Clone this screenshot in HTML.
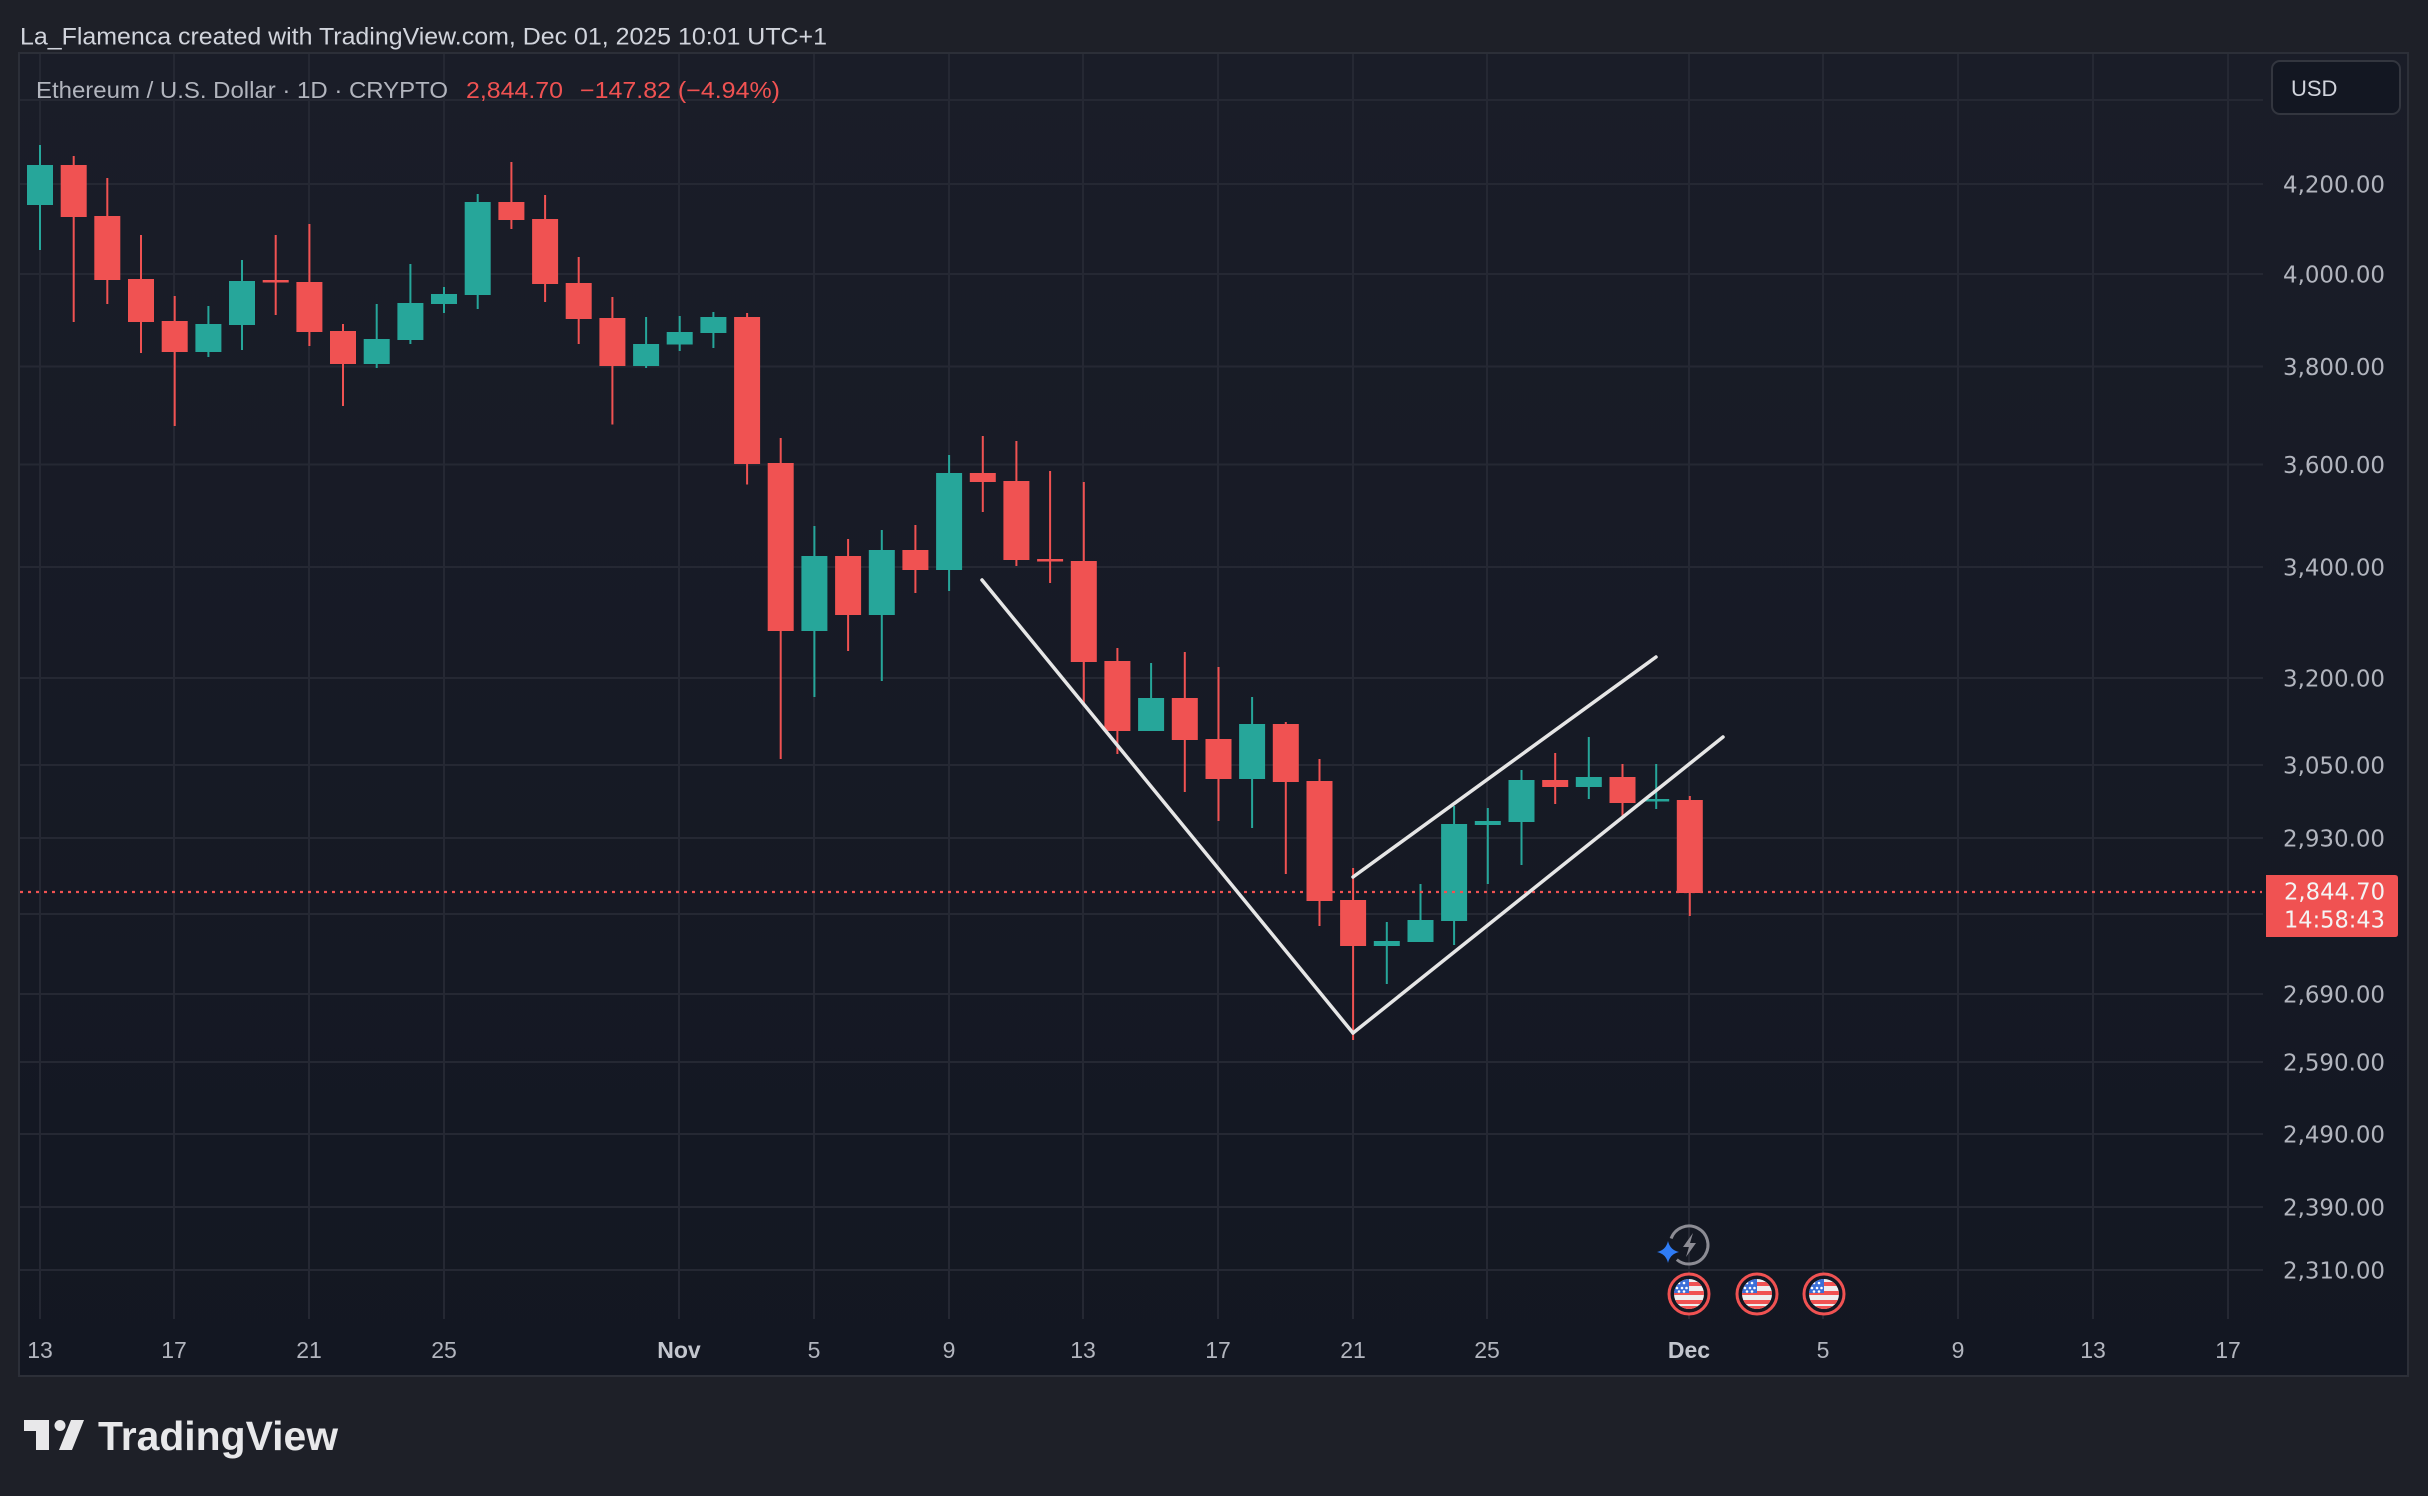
<!DOCTYPE html>
<html>
<head>
<meta charset="utf-8">
<style>
html,body{margin:0;padding:0;background:#1e2028;}
svg{display:block;}
</style>
</head>
<body>
<svg xmlns="http://www.w3.org/2000/svg" width="2428" height="1496" viewBox="0 0 2428 1496">
<defs>
<linearGradient id="pg" x1="0" y1="0" x2="0" y2="1">
<stop offset="0" stop-color="#1a1d28"/>
<stop offset="1" stop-color="#131722"/>
</linearGradient>
<clipPath id="fc1"><circle cx="1689" cy="1294" r="15"/></clipPath>
<clipPath id="fc2"><circle cx="1757" cy="1294" r="15"/></clipPath>
<clipPath id="fc3"><circle cx="1824" cy="1294" r="15"/></clipPath>
<g id="flag">
<rect x="-15" y="-15" width="30" height="30" fill="#eeeeee"/>
<rect x="-15" y="-12" width="30" height="4" fill="#f05252"/>
<rect x="-15" y="-3" width="30" height="4" fill="#f05252"/>
<rect x="-15" y="6" width="30" height="4" fill="#f05252"/>
<rect x="-15" y="12" width="30" height="4" fill="#f05252"/>
<rect x="-15" y="-15" width="15" height="14" fill="#3b6fd8"/>
<circle cx="-10" cy="-11" r="1.3" fill="#fff"/><circle cx="-5" cy="-11" r="1.3" fill="#fff"/>
<circle cx="-12" cy="-6" r="1.3" fill="#fff"/><circle cx="-7" cy="-6" r="1.3" fill="#fff"/><circle cx="-2.5" cy="-6" r="1.3" fill="#fff"/>
<circle cx="-10" cy="-2.5" r="1.3" fill="#fff"/><circle cx="-5" cy="-2.5" r="1.3" fill="#fff"/>
</g>
</defs>

<rect x="0" y="0" width="2428" height="1496" fill="#1e2028"/>

<text x="20" y="44.5" font-family="Liberation Sans, sans-serif" font-size="24" fill="#d1d4dc" textLength="807" lengthAdjust="spacingAndGlyphs">La_Flamenca created with TradingView.com, Dec 01, 2025 10:01 UTC+1</text>

<!-- panel -->
<rect x="19" y="53" width="2389" height="1323" fill="url(#pg)" stroke="#2c2f38" stroke-width="2"/>

<!-- horizontal grid -->
<g stroke="#252833" stroke-width="2">
<line x1="20" y1="100" x2="2263" y2="100"/>
<line x1="20" y1="184" x2="2263" y2="184"/>
<line x1="20" y1="274" x2="2263" y2="274"/>
<line x1="20" y1="366.5" x2="2263" y2="366.5"/>
<line x1="20" y1="464.5" x2="2263" y2="464.5"/>
<line x1="20" y1="567" x2="2263" y2="567"/>
<line x1="20" y1="678" x2="2263" y2="678"/>
<line x1="20" y1="765" x2="2263" y2="765"/>
<line x1="20" y1="838" x2="2263" y2="838"/>
<line x1="20" y1="914" x2="2263" y2="914"/>
<line x1="20" y1="994" x2="2263" y2="994"/>
<line x1="20" y1="1062" x2="2263" y2="1062"/>
<line x1="20" y1="1134" x2="2263" y2="1134"/>
<line x1="20" y1="1207" x2="2263" y2="1207"/>
<line x1="20" y1="1270" x2="2263" y2="1270"/>
</g>
<!-- vertical grid -->
<g stroke="#252833" stroke-width="2">
<line x1="40" y1="54" x2="40" y2="1319"/>
<line x1="174" y1="54" x2="174" y2="1319"/>
<line x1="309" y1="54" x2="309" y2="1319"/>
<line x1="444" y1="54" x2="444" y2="1319"/>
<line x1="679" y1="54" x2="679" y2="1319"/>
<line x1="814" y1="54" x2="814" y2="1319"/>
<line x1="949" y1="54" x2="949" y2="1319"/>
<line x1="1083" y1="54" x2="1083" y2="1319"/>
<line x1="1218" y1="54" x2="1218" y2="1319"/>
<line x1="1353" y1="54" x2="1353" y2="1319"/>
<line x1="1487" y1="54" x2="1487" y2="1319"/>
<line x1="1689" y1="54" x2="1689" y2="1319"/>
<line x1="1823" y1="54" x2="1823" y2="1319"/>
<line x1="1958" y1="54" x2="1958" y2="1319"/>
<line x1="2093" y1="54" x2="2093" y2="1319"/>
<line x1="2228" y1="54" x2="2228" y2="1319"/>
</g>

<!-- legend -->
<text x="36" y="98" font-family="Liberation Sans, sans-serif" font-size="23" fill="#b2b5be" textLength="412" lengthAdjust="spacingAndGlyphs">Ethereum / U.S. Dollar · 1D · CRYPTO</text>
<text x="466" y="98" font-family="Liberation Sans, sans-serif" font-size="23" fill="#f05252" textLength="97" lengthAdjust="spacingAndGlyphs">2,844.70</text>
<text x="580" y="98" font-family="Liberation Sans, sans-serif" font-size="23" fill="#f05252" textLength="200" lengthAdjust="spacingAndGlyphs">−147.82 (−4.94%)</text>

<!-- candles green -->
<g fill="#26a69a">
<rect x="39" y="145" width="2" height="105"/><rect x="27" y="165" width="26" height="40"/>
<rect x="207.4" y="306" width="2" height="51"/><rect x="195.4" y="324" width="26" height="28"/>
<rect x="241" y="260" width="2" height="90"/><rect x="229" y="281" width="26" height="44"/>
<rect x="375.7" y="304" width="2" height="64"/><rect x="363.7" y="339" width="26" height="25"/>
<rect x="409.4" y="264" width="2" height="80"/><rect x="397.4" y="303" width="26" height="37"/>
<rect x="443" y="287" width="2" height="26"/><rect x="431" y="294" width="26" height="10"/>
<rect x="476.7" y="194" width="2" height="115"/><rect x="464.7" y="202" width="26" height="93"/>
<rect x="645.1" y="317" width="2" height="51"/><rect x="633.1" y="344" width="26" height="22"/>
<rect x="678.7" y="316" width="2" height="35"/><rect x="666.7" y="332" width="26" height="12.5"/>
<rect x="712.4" y="312" width="2" height="36"/><rect x="700.4" y="317" width="26" height="16"/>
<rect x="813.4" y="526" width="2" height="171"/><rect x="801.4" y="556" width="26" height="75"/>
<rect x="880.8" y="530" width="2" height="151"/><rect x="868.8" y="550" width="26" height="65"/>
<rect x="948.1" y="455" width="2" height="136"/><rect x="936.1" y="473" width="26" height="97"/>
<rect x="1150.1" y="663" width="2" height="68"/><rect x="1138.1" y="698" width="26" height="33"/>
<rect x="1251.1" y="697" width="2" height="131"/><rect x="1239.1" y="724" width="26" height="55"/>
<rect x="1385.8" y="922" width="2" height="62"/><rect x="1373.8" y="941" width="26" height="5"/>
<rect x="1419.5" y="884" width="2" height="58"/><rect x="1407.5" y="920" width="26" height="22"/>
<rect x="1453.1" y="806" width="2" height="139"/><rect x="1441.1" y="824" width="26" height="97"/>
<rect x="1486.8" y="808" width="2" height="76"/><rect x="1474.8" y="821" width="26" height="4"/>
<rect x="1520.5" y="770" width="2" height="95"/><rect x="1508.5" y="780" width="26" height="42"/>
<rect x="1587.8" y="737" width="2" height="62"/><rect x="1575.8" y="777" width="26" height="10"/>
<rect x="1655.2" y="764" width="2" height="45"/><rect x="1643.2" y="799" width="26" height="2.5"/>
</g>
<!-- candles red -->
<g fill="#f05252">
<rect x="72.7" y="156" width="2" height="166"/><rect x="60.7" y="165" width="26" height="52"/>
<rect x="106.3" y="178" width="2" height="126"/><rect x="94.3" y="216" width="26" height="64"/>
<rect x="140" y="235" width="2" height="118"/><rect x="128" y="279" width="26" height="43"/>
<rect x="173.7" y="296" width="2" height="130"/><rect x="161.7" y="321" width="26" height="31"/>
<rect x="274.7" y="235" width="2" height="80"/><rect x="262.7" y="280" width="26" height="2.5"/>
<rect x="308.4" y="224" width="2" height="122"/><rect x="296.4" y="282" width="26" height="50"/>
<rect x="342" y="324" width="2" height="82"/><rect x="330" y="331" width="26" height="33"/>
<rect x="510.4" y="162" width="2" height="67"/><rect x="498.4" y="202" width="26" height="18"/>
<rect x="544.1" y="195" width="2" height="107"/><rect x="532.1" y="219" width="26" height="65"/>
<rect x="577.7" y="257" width="2" height="87"/><rect x="565.7" y="283" width="26" height="36"/>
<rect x="611.4" y="297" width="2" height="127.5"/><rect x="599.4" y="318" width="26" height="48"/>
<rect x="746.1" y="313" width="2" height="171.5"/><rect x="734.1" y="317" width="26" height="147"/>
<rect x="779.7" y="438" width="2" height="321"/><rect x="767.7" y="463" width="26" height="168"/>
<rect x="847.1" y="539" width="2" height="112"/><rect x="835.1" y="556" width="26" height="59"/>
<rect x="914.4" y="525" width="2" height="68"/><rect x="902.4" y="550" width="26" height="20"/>
<rect x="981.8" y="436" width="2" height="76"/><rect x="969.8" y="473" width="26" height="9"/>
<rect x="1015.4" y="441" width="2" height="125"/><rect x="1003.4" y="481" width="26" height="79"/>
<rect x="1049.1" y="471" width="2" height="112"/><rect x="1037.1" y="559" width="26" height="2.5"/>
<rect x="1082.8" y="482" width="2" height="222"/><rect x="1070.8" y="561" width="26" height="101"/>
<rect x="1116.4" y="648" width="2" height="106"/><rect x="1104.4" y="661" width="26" height="70"/>
<rect x="1183.8" y="652" width="2" height="140"/><rect x="1171.8" y="698" width="26" height="42"/>
<rect x="1217.5" y="667" width="2" height="154"/><rect x="1205.5" y="739" width="26" height="40"/>
<rect x="1284.8" y="722" width="2" height="152"/><rect x="1272.8" y="724" width="26" height="58"/>
<rect x="1318.5" y="759" width="2" height="167"/><rect x="1306.5" y="781" width="26" height="120"/>
<rect x="1352.1" y="868" width="2" height="172"/><rect x="1340.1" y="900" width="26" height="46"/>
<rect x="1554.2" y="753" width="2" height="51"/><rect x="1542.2" y="780" width="26" height="7"/>
<rect x="1621.5" y="764" width="2" height="53"/><rect x="1609.5" y="777" width="26" height="26"/>
<rect x="1688.8" y="796" width="2" height="120"/><rect x="1676.8" y="800" width="26" height="93"/>
</g>

<!-- current price dotted line -->
<line x1="20" y1="892" x2="2262" y2="892" stroke="#f05252" stroke-width="2.2" stroke-dasharray="3 5"/>

<!-- trend lines -->
<g stroke="#e6e6e6" stroke-width="3.5" stroke-linecap="round" fill="none">
<line x1="982" y1="580" x2="1353" y2="1033"/>
<line x1="1353" y1="877" x2="1656" y2="657"/>
<line x1="1353" y1="1033" x2="1723" y2="737"/>
</g>

<!-- price axis labels -->
<g font-family="DejaVu Sans, sans-serif" font-size="23" fill="#b2b5be" text-anchor="end">
<text x="2385" y="192.4" textLength="102" lengthAdjust="spacingAndGlyphs">4,200.00</text>
<text x="2385" y="282.4" textLength="102" lengthAdjust="spacingAndGlyphs">4,000.00</text>
<text x="2385" y="374.9" textLength="102" lengthAdjust="spacingAndGlyphs">3,800.00</text>
<text x="2385" y="472.9" textLength="102" lengthAdjust="spacingAndGlyphs">3,600.00</text>
<text x="2385" y="575.4" textLength="102" lengthAdjust="spacingAndGlyphs">3,400.00</text>
<text x="2385" y="686.4" textLength="102" lengthAdjust="spacingAndGlyphs">3,200.00</text>
<text x="2385" y="773.4" textLength="102" lengthAdjust="spacingAndGlyphs">3,050.00</text>
<text x="2385" y="846.4" textLength="102" lengthAdjust="spacingAndGlyphs">2,930.00</text>
<text x="2385" y="1002.4" textLength="102" lengthAdjust="spacingAndGlyphs">2,690.00</text>
<text x="2385" y="1070.4" textLength="102" lengthAdjust="spacingAndGlyphs">2,590.00</text>
<text x="2385" y="1142.4" textLength="102" lengthAdjust="spacingAndGlyphs">2,490.00</text>
<text x="2385" y="1215.4" textLength="102" lengthAdjust="spacingAndGlyphs">2,390.00</text>
<text x="2385" y="1278.4" textLength="102" lengthAdjust="spacingAndGlyphs">2,310.00</text>
</g>

<!-- current price label -->
<path d="M2266 875 H2395 Q2398 875 2398 878 V934 Q2398 937 2395 937 H2266 Z" fill="#f05252"/>
<g font-family="DejaVu Sans, sans-serif" font-size="23" fill="#f4f4f4" text-anchor="end">
<text x="2385" y="899.3" textLength="101" lengthAdjust="spacingAndGlyphs">2,844.70</text>
<text x="2385" y="927.3" textLength="101" lengthAdjust="spacingAndGlyphs">14:58:43</text>
</g>

<!-- USD box -->
<rect x="2272" y="61" width="128" height="53" rx="8" ry="8" fill="#131722" stroke="#33363f" stroke-width="2"/>
<text x="2291" y="96" font-family="Liberation Sans, sans-serif" font-size="22" fill="#d1d4dc">USD</text>

<!-- date labels -->
<g font-family="Liberation Sans, sans-serif" font-size="23" fill="#b2b5be" text-anchor="middle">
<text x="40" y="1358">13</text>
<text x="174" y="1358">17</text>
<text x="309" y="1358">21</text>
<text x="444" y="1358">25</text>
<text x="679" y="1358" font-weight="bold" fill="#c3c6ce">Nov</text>
<text x="814" y="1358">5</text>
<text x="949" y="1358">9</text>
<text x="1083" y="1358">13</text>
<text x="1218" y="1358">17</text>
<text x="1353" y="1358">21</text>
<text x="1487" y="1358">25</text>
<text x="1689" y="1358" font-weight="bold" fill="#c3c6ce">Dec</text>
<text x="1823" y="1358">5</text>
<text x="1958" y="1358">9</text>
<text x="2093" y="1358">13</text>
<text x="2228" y="1358">17</text>
</g>

<!-- lightning icon -->
<path d="M1671.1 1238.5 A19 19 0 1 1 1676.8 1259.6" fill="none" stroke="#8c8c94" stroke-width="3"/>
<polygon points="1693,1233 1683,1247 1689,1247 1686,1257 1696,1243 1690,1243" fill="#8c8c94"/>
<path d="M1668 1241 Q1670 1250 1679 1252 Q1670 1254 1668 1263 Q1666 1254 1657 1252 Q1666 1250 1668 1241 Z" fill="#2f7cf6"/>

<!-- flag icons -->
<g>
<circle cx="1689" cy="1294" r="20" fill="#131722" stroke="#f05252" stroke-width="3"/>
<g clip-path="url(#fc1)"><use href="#flag" x="1689" y="1294"/></g>
<circle cx="1757" cy="1294" r="20" fill="#131722" stroke="#f05252" stroke-width="3"/>
<g clip-path="url(#fc2)"><use href="#flag" x="1757" y="1294"/></g>
<circle cx="1824" cy="1294" r="20" fill="#131722" stroke="#f05252" stroke-width="3"/>
<g clip-path="url(#fc3)"><use href="#flag" x="1824" y="1294"/></g>
</g>

<!-- TradingView logo -->
<g fill="#e8e8ea">
<path d="M24 1420 H49 V1450 H36 V1431 H24 Z"/>
<circle cx="60" cy="1425.5" r="5.5"/>
<polygon points="71,1420 84,1420 72,1450 59,1450"/>
</g>
<text x="98" y="1450" font-family="Liberation Sans, sans-serif" font-size="41" font-weight="bold" fill="#e8e8ea" textLength="240" lengthAdjust="spacingAndGlyphs">TradingView</text>
</svg>
</body>
</html>
